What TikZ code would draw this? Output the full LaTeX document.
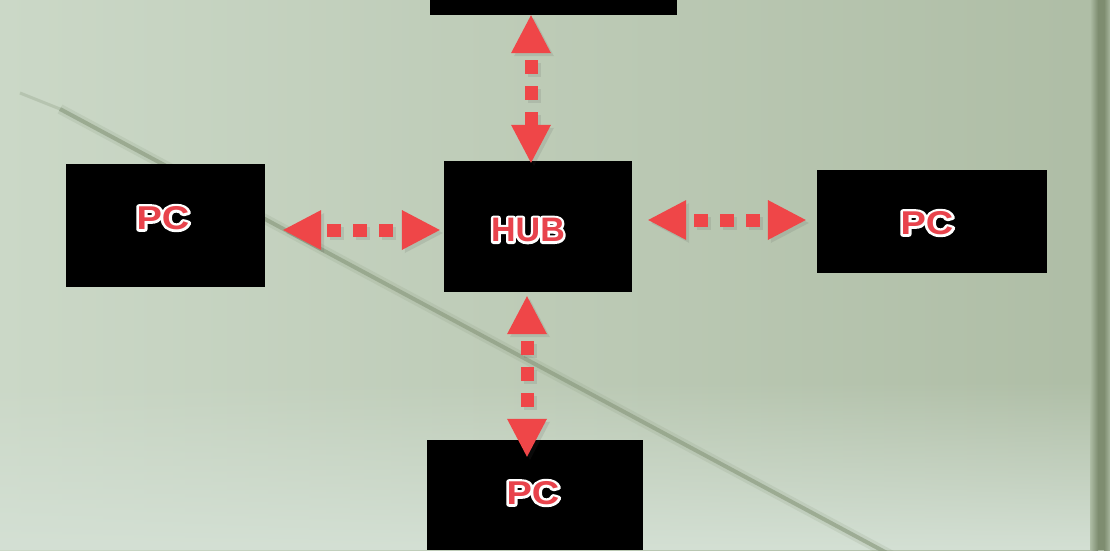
\documentclass[tikz,border=0pt]{standalone}
\usepackage{fontspec}
\setmainfont{Liberation Sans}
\usetikzlibrary{arrows.meta,calc,fadings}
\definecolor{bgL}{HTML}{CBD8C7}
\definecolor{bgR}{HTML}{AEBDA5}
\definecolor{bgB}{HTML}{D4E0D4}
\definecolor{streak}{HTML}{8A9A7E}
\definecolor{edge}{HTML}{7E8D70}
\definecolor{arrowred}{HTML}{EF4648}
\definecolor{textred}{HTML}{E8434C}
\newcommand\halotext[1]{\leavevmode\rlap{\special{pdf:literal direct q 1 Tr 5 w 1 j 1 1 1 RG}#1\special{pdf:literal direct Q}}#1}
\begin{document}
\begin{tikzpicture}[x=1pt,y=1pt,
  box/.style={fill=black, draw=none, inner sep=0pt},
  lbl/.style={font=\bfseries\fontsize{33}{33}\selectfont, text=textred, inner sep=0pt},
  biarrow/.style={draw=arrowred, line width=13pt, dash pattern=on 13.5pt off 12.5pt,
    {Triangle[width=40pt,length=38pt,line width=0pt]}-{Triangle[width=40pt,length=38pt,line width=0pt]}},
  arrowshadow/.style={biarrow, draw=black!70, opacity=0.13, transform canvas={shift={(3pt,-3pt)}}}]
\useasboundingbox (0,0) rectangle (1110,550);
\clip (0,0) rectangle (1110,550);
% background
\shade[left color=bgL, right color=bgR] (0,0) rectangle (1110,550);
\fill[bgB, path fading=north] (0,0) rectangle (1110,170);
\shade[left color=bgR, right color=edge] (1090,0) rectangle (1098,550);
\fill[edge] (1098,0) rectangle (1104,550);
\shade[left color=edge, right color=bgR!85!edge] (1104,0) rectangle (1110,550);
% diagonal streak
\draw[streak, line width=10pt, opacity=0.18] (60,441) -- (900,-10);
\draw[streak, line width=4pt, opacity=0.65] (60,441) -- (900,-10);
\draw[streak, line width=3pt, opacity=0.3] (20,457) -- (60,441);
% boxes
\node[box, minimum width=188pt, minimum height=131pt] (hub) at (538,323.5) {};
\node[box, minimum width=199pt, minimum height=123pt] (pcL) at (165.5,324.5) {};
\node[box, minimum width=230pt, minimum height=103pt] (pcR) at (932,328.5) {};
\node[box, minimum width=216pt, minimum height=110pt] (pcB) at (535,55) {};
\node[box, minimum width=247pt, minimum height=110pt] (pcT) at (553.5,590) {};
% labels
\node[lbl, font=\bfseries\fontsize{34}{34}\selectfont] at ($(hub.center)+(-10,-3.5)$) {\halotext{HUB}};
\node[lbl] at ($(pcL.center)+(-2.5,7.5)$) {\scalebox{1.15}[1]{\halotext{PC}}};
\node[lbl] at ($(pcR.center)+(-5,-1.5)$) {\scalebox{1.15}[1]{\halotext{PC}}};
\node[lbl] at ($(pcB.center)+(-2,2)$) {\scalebox{1.15}[1]{\halotext{PC}}};
% connector shadows
\draw[arrowshadow, dash phase=20pt, shorten <=18pt, shorten >=4pt]
  ([yshift=-4.5pt]pcL.east) -- ([yshift=-3.5pt]hub.west);
\draw[arrowshadow, dash phase=18pt, shorten <=16pt, shorten >=11pt]
  ([yshift=6.5pt]hub.east) -- ([yshift=1.5pt]pcR.west);
\draw[arrowshadow, dash phase=19pt, shorten <=0pt, shorten >=-2pt]
  ([xshift=-22.5pt]pcT.south) -- ([xshift=-7pt]hub.north);
\draw[arrowshadow, dash phase=19pt, shorten <=4pt, shorten >=-17pt]
  ([xshift=-11pt]hub.south) -- ([xshift=-8pt]pcB.north);
% connectors
\draw[biarrow, dash phase=20pt, shorten <=18pt, shorten >=4pt]
  ([yshift=-4.5pt]pcL.east) -- ([yshift=-3.5pt]hub.west);
\draw[biarrow, dash phase=18pt, shorten <=16pt, shorten >=11pt]
  ([yshift=6.5pt]hub.east) -- ([yshift=1.5pt]pcR.west);
\draw[biarrow, dash phase=19pt, shorten <=0pt, shorten >=-2pt]
  ([xshift=-22.5pt]pcT.south) -- ([xshift=-7pt]hub.north);
\draw[biarrow, dash phase=19pt, shorten <=4pt, shorten >=-17pt]
  ([xshift=-11pt]hub.south) -- ([xshift=-8pt]pcB.north);
\end{tikzpicture}
\end{document}
